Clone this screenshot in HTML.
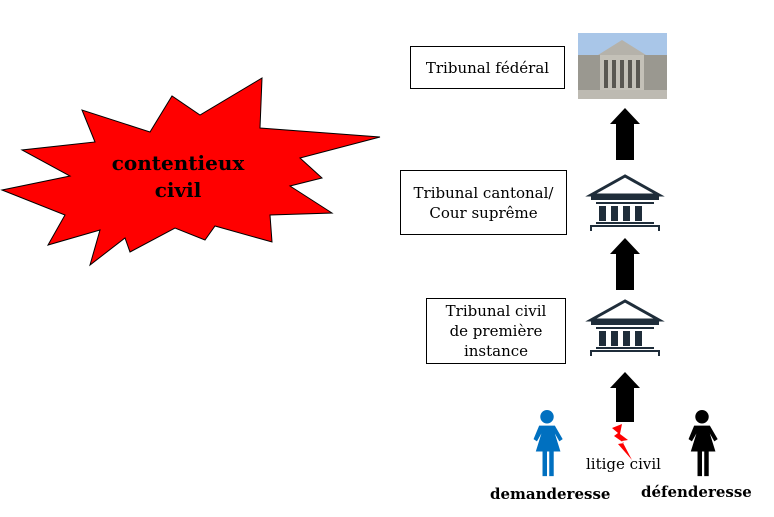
<!DOCTYPE html>
<html><head><style>
body{margin:0;width:774px;height:517px;background:#fff;position:relative;overflow:hidden;font-family:"DejaVu Serif","Liberation Serif",serif}
.b{position:absolute;border:1px solid #000;background:#fff;display:flex;align-items:center;justify-content:center;text-align:center;font-size:15px;line-height:20px;box-sizing:border-box;white-space:nowrap}
.t{position:absolute;font-size:15px;white-space:nowrap}
</style></head><body>
<svg width="774" height="517" style="position:absolute;left:0;top:0">
<polygon points="2,190 70,176 22,150 95,142 82,110 150,132 172,96 200,115 262,78 260,128 380,137 300,158 322,178 290,186 332,213 270,215 272,242 215,226 205,240 175,228 130,252 125,238 90,265 100,230 48,245 65,215" fill="#ff0000" stroke="#000" stroke-width="1"/>
<text x="178" y="170" font-family="DejaVu Serif" font-size="20" font-weight="bold" text-anchor="middle">contentieux</text>
<text x="178" y="197" font-family="DejaVu Serif" font-size="20" font-weight="bold" text-anchor="middle">civil</text>
<rect x="578" y="33" width="89" height="66" fill="#a9c6e8"/>
<rect x="578" y="55" width="89" height="44" fill="#9a9890"/>
<polygon points="598,55 622,40 646,55" fill="#b5b2aa"/>
<rect x="600" y="55" width="44" height="35" fill="#c4c1b8"/>
<g fill="#5a5852"><rect x="604" y="60" width="4" height="28"/><rect x="612" y="60" width="4" height="28"/><rect x="620" y="60" width="4" height="28"/><rect x="628" y="60" width="4" height="28"/><rect x="636" y="60" width="4" height="28"/></g>
<rect x="578" y="90" width="89" height="9" fill="#bdbab2"/>
<g fill="#000">
<polygon points="625,108 640,124 634,124 634,160 616,160 616,124 610,124"/>
<polygon points="625,238 640,254 634,254 634,290 616,290 616,254 610,254"/>
<polygon points="625,372 640,388 634,388 634,422 616,422 616,388 610,388"/>
</g>
<g id="c" fill="#1f2d3a" stroke="#1f2d3a">
<polygon points="625,176 591,195 659,195" fill="none" stroke-width="3"/>
<rect x="591" y="196" width="68" height="4" stroke="none"/>
<rect x="596" y="202" width="58" height="2" stroke="none"/>
<rect x="599" y="206" width="7" height="15" stroke="none"/>
<rect x="611" y="206" width="7" height="15" stroke="none"/>
<rect x="623" y="206" width="7" height="15" stroke="none"/>
<rect x="635" y="206" width="7" height="15" stroke="none"/>
<rect x="596" y="222" width="58" height="2" stroke="none"/>
<polyline points="591,231 591,226 659,226 659,231" fill="none" stroke-width="2"/>
</g>
<use href="#c" transform="translate(0,125)"/>
<polygon points="612,428 622,424 620,434 628,440 622,441 632,460 618,444 624,443 614,436 618,433" fill="#ff0000"/>
<g fill="#0070c0" transform="translate(547,410) scale(1.12) translate(-547,-410)">
<circle cx="547" cy="416" r="6"/>
<path d="M540,424 h14 l7,12 l-3,2 l-4,-7 l5,16 h-6 v22 h-4 v-22 h-2 v22 h-4 v-22 h-6 l5,-16 l-4,7 l-3,-2 z"/>
</g>
<g fill="#000" transform="translate(702,410) scale(1.12) translate(-702,-410)">
<circle cx="702" cy="416" r="6"/>
<path d="M695,424 h14 l7,12 l-3,2 l-4,-7 l5,16 h-6 v22 h-4 v-22 h-2 v22 h-4 v-22 h-6 l5,-16 l-4,7 l-3,-2 z"/>
</g>
</svg>
<div class="b" style="left:410px;top:46px;width:155px;height:43px">Tribunal fédéral</div>
<div class="b" style="left:400px;top:170px;width:167px;height:65px">Tribunal cantonal/<br>Cour suprême</div>
<div class="b" style="left:426px;top:298px;width:140px;height:66px">Tribunal civil<br>de première<br>instance</div>
<div class="t" style="left:586px;top:455px">litige civil</div>
<div class="t" style="left:490px;top:485px;font-weight:bold">demanderesse</div>
<div class="t" style="left:641px;top:483px;font-weight:bold">défenderesse</div>
</body></html>
